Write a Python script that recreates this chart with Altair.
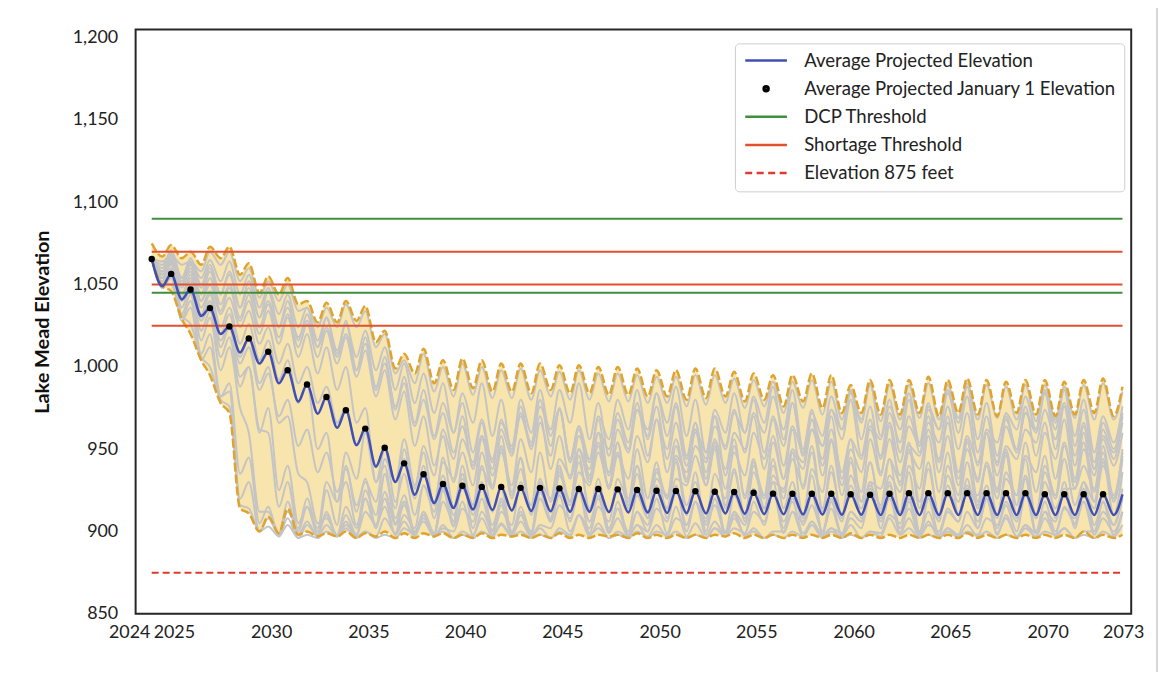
import altair as alt
import pandas as pd

# ---------------- data ----------------
JAN_YEARS = list(range(2024, 2075))      # January 1 of each year (2024 .. 2074)
LOW_OFFSET = 0.55                         # timing of the summer low within a year

AVG_JAN = [1065.5, 1056.5, 1047, 1035.7, 1024.5, 1017.2, 1009.2, 998, 989.3, 981.7,
           973.6, 962.5, 950.9, 941.4, 934.8, 928.8, 927.8, 927.1, 927.1, 926.5,
           926.5, 926.2, 925.8, 925.8, 925.6, 925.2, 924.8, 924.6, 924.4, 924.1,
           924, 923.5, 923, 922.9, 922.9, 922.9, 922.6, 922.3, 922.9, 923.3,
           923.3, 923.3, 923.3, 923.3, 923.3, 923.3, 922.6, 922.6, 922.6, 922.6, 922.5]
AVG_LOW = [1049, 1041, 1031, 1020, 1008.8, 1002, 990, 979, 971.6, 963,
           952.5, 939.4, 930, 922.3, 917.3, 914.3, 913.3, 913, 912.8, 912.5,
           912.3, 912, 912, 911.8, 911.6, 911.5, 911.3, 911.2, 911, 911,
           910.8, 910.6, 910.5, 910.4, 910.3, 910.2, 910.2, 910, 910, 910,
           910, 910, 910, 910, 910, 910, 910, 910, 910, 910]

ENV_HI_JAN = [1075, 1074, 1070, 1073, 1073, 1063, 1055, 1054, 1040, 1039,
              1040, 1037, 1022, 1008, 1011, 1004, 1005, 1004, 1002, 1002,
              1002, 1001, 1001, 1000, 1000, 999, 998, 998, 999, 999,
              997, 996, 995, 995, 996, 995, 989, 992, 992, 992,
              994, 992, 993, 992, 991, 992, 992, 991, 992, 993, 988]
ENV_HI_LOW = [1067, 1066, 1062, 1066, 1056, 1045, 1044, 1038, 1027, 1027,
              1028, 1015, 999, 996, 990, 986, 987, 985, 985, 984,
              986, 984, 984, 983, 983, 982, 982, 980, 981, 982,
              979, 980, 976, 979, 975, 972, 972, 971, 971, 972,
              970, 972, 971, 970, 972, 971, 970, 971, 972, 970]
ENV_LO_JAN = [1066, 1046, 1020, 995, 972, 911, 909, 914, 900, 899,
              900, 899, 900, 899, 899, 899, 898, 899, 898, 898,
              898, 899, 898, 898, 898, 899, 898, 898, 898, 898,
              899, 898, 898, 898, 898, 898, 899, 898, 898, 898,
              898, 898, 899, 898, 898, 898, 898, 898, 900, 898, 898]
ENV_LO_LOW = [1049, 1029, 1004, 978, 914, 900, 899, 898, 897, 897,
              896, 897, 896, 896, 897, 896, 896, 896, 897, 896,
              896, 896, 896, 897, 896, 896, 896, 896, 896, 897,
              896, 896, 896, 896, 896, 896, 896, 896, 896, 896,
              896, 896, 896, 896, 896, 896, 896, 896, 896, 896]

# individual projection traces (grey)
TR00_JAN = [1066, 1068, 1064, 1070, 1070, 1060, 1052, 1050, 1036, 1036, 1038, 1034, 1020, 1004, 1008, 1000, 1002, 1000, 998, 999,
            998, 997, 998, 996, 996, 995, 994, 994, 995, 995, 993, 992, 991, 991, 992, 991, 985, 989, 989, 989,
            990, 989, 990, 989, 988, 989, 989, 988, 989, 990, 985]
TR00_LOW = [1064, 1062, 1058, 1062, 1052, 1042, 1040, 1034, 1024, 1024, 1024, 1012, 996, 990, 985, 982, 983, 981, 981, 980,
            982, 980, 980, 979, 979, 978, 978, 976, 977, 978, 975, 976, 972, 975, 971, 968, 968, 967, 968, 969,
            968, 969, 968, 969, 968, 967, 968, 969, 968, 968]
TR01_JAN = [1066, 1058, 1044, 1030, 1012, 960, 912, 918, 906, 904, 910, 920, 915, 906, 912, 925, 918, 908, 904, 915,
            930, 922, 910, 905, 900, 912, 920, 915, 905, 902, 910, 918, 925, 912, 904, 900, 908, 922, 930, 918,
            906, 902, 912, 920, 910, 904, 900, 915, 926, 918, 912]
TR01_LOW = [1050, 1032, 1016, 998, 975, 912, 899, 898, 897, 897, 898, 904, 898, 897, 899, 903, 898, 897, 897, 899,
            907, 900, 897, 896, 897, 900, 899, 897, 896, 897, 898, 904, 899, 897, 896, 897, 902, 908, 899, 897,
            896, 898, 902, 898, 897, 896, 898, 905, 900, 898]
TR02_JAN = [1066, 1062, 1052, 1040, 1024, 1000, 960, 930, 915, 925, 940, 932, 920, 910, 928, 945, 935, 920, 912, 930,
            948, 940, 925, 915, 932, 950, 942, 928, 918, 935, 952, 944, 930, 920, 938, 955, 945, 930, 922, 940,
            958, 948, 932, 920, 936, 954, 946, 930, 924, 942, 950]
TR02_LOW = [1054, 1042, 1030, 1012, 994, 962, 915, 900, 898, 904, 912, 902, 898, 902, 912, 915, 902, 898, 904, 916,
            918, 906, 899, 906, 918, 920, 908, 900, 908, 920, 922, 910, 902, 910, 924, 922, 908, 902, 912, 926,
            924, 910, 902, 908, 922, 924, 908, 902, 914, 920]
TR03_JAN = [1066, 1065, 1058, 1050, 1042, 1034, 1024, 1014, 1000, 988, 975, 962, 950, 944, 952, 962, 970, 958, 948, 956,
            966, 974, 964, 952, 946, 958, 968, 976, 966, 954, 948, 960, 970, 978, 968, 956, 950, 962, 972, 980,
            970, 958, 950, 960, 970, 976, 966, 954, 950, 962, 970]
TR03_LOW = [1056, 1050, 1040, 1032, 1024, 1014, 1002, 990, 978, 966, 952, 940, 930, 926, 934, 944, 938, 928, 928, 936,
            946, 944, 932, 926, 932, 942, 950, 944, 932, 926, 934, 944, 952, 946, 934, 928, 936, 946, 954, 948,
            936, 928, 932, 942, 950, 946, 932, 926, 934, 944]
TR04_JAN = [1066, 1071, 1066, 1062, 1058, 1052, 1046, 1040, 1032, 1030, 1028, 1018, 1006, 994, 986, 978, 984, 990, 980, 970,
            976, 986, 990, 978, 968, 974, 984, 988, 980, 970, 972, 982, 988, 978, 968, 974, 984, 990, 980, 970,
            974, 984, 988, 978, 968, 972, 984, 988, 980, 970, 976]
TR04_LOW = [1060, 1054, 1050, 1044, 1036, 1030, 1024, 1016, 1012, 1008, 998, 986, 974, 966, 958, 960, 966, 958, 948, 952,
            962, 966, 956, 946, 950, 962, 966, 958, 948, 950, 960, 966, 956, 946, 952, 962, 966, 958, 948, 952,
            962, 966, 956, 946, 950, 962, 966, 958, 948, 954]
TR05_JAN = [1066, 1066, 1060, 1054, 1048, 1040, 1034, 1030, 1020, 1012, 1000, 975, 940, 918, 912, 926, 940, 930, 916, 910,
            924, 938, 946, 932, 918, 912, 928, 942, 936, 920, 912, 926, 940, 948, 934, 918, 912, 928, 944, 936,
            920, 912, 928, 942, 948, 932, 918, 914, 930, 944, 936]
TR05_LOW = [1056, 1048, 1040, 1034, 1028, 1020, 1014, 1006, 996, 986, 966, 930, 905, 898, 898, 906, 910, 900, 897, 900,
            908, 918, 912, 900, 898, 904, 914, 910, 900, 897, 904, 914, 920, 908, 898, 898, 906, 916, 910, 900,
            898, 906, 916, 920, 908, 900, 900, 908, 918, 910]
TR06_JAN = [1066, 1068, 1062, 1058, 1050, 1044, 1038, 1032, 1026, 1022, 1018, 1010, 998, 985, 970, 958, 948, 956, 968, 980,
            986, 975, 962, 954, 962, 974, 984, 978, 966, 956, 960, 972, 982, 986, 974, 962, 956, 964, 976, 984,
            978, 966, 958, 962, 972, 982, 986, 976, 964, 958, 966]
TR06_LOW = [1058, 1050, 1044, 1038, 1030, 1024, 1018, 1012, 1006, 1002, 994, 982, 968, 952, 940, 930, 928, 938, 950, 960,
            958, 944, 934, 936, 948, 958, 958, 946, 936, 938, 950, 960, 962, 950, 940, 936, 944, 956, 962, 954,
            942, 936, 942, 954, 962, 962, 950, 940, 938, 948]
TR07_JAN = [1066, 1056, 1040, 1020, 990, 945, 915, 908, 904, 912, 902, 900, 908, 918, 910, 904, 900, 912, 920, 910,
            902, 900, 910, 922, 914, 904, 900, 908, 918, 926, 912, 902, 900, 912, 922, 914, 904, 900, 910, 920,
            912, 902, 900, 908, 918, 924, 912, 902, 900, 912, 920]
TR07_LOW = [1050, 1030, 1008, 982, 935, 905, 897, 896, 897, 897, 896, 897, 899, 899, 897, 896, 897, 901, 899, 897,
            896, 897, 902, 900, 897, 896, 898, 904, 906, 899, 897, 896, 900, 906, 900, 897, 896, 899, 905, 899,
            897, 896, 898, 904, 906, 899, 897, 896, 900, 904]
TR08_JAN = [1066, 1063, 1056, 1046, 1036, 1026, 1016, 1004, 990, 960, 930, 920, 935, 950, 940, 928, 935, 948, 958, 945,
            932, 936, 950, 960, 948, 935, 938, 952, 962, 950, 936, 940, 954, 962, 948, 936, 942, 956, 964, 950,
            938, 940, 954, 960, 946, 934, 940, 952, 960, 948, 944]
TR08_LOW = [1054, 1044, 1036, 1024, 1014, 1004, 992, 978, 950, 918, 904, 902, 914, 920, 908, 904, 916, 926, 924, 912,
            906, 918, 930, 926, 914, 908, 920, 930, 928, 916, 910, 922, 932, 926, 912, 910, 924, 934, 928, 914,
            910, 922, 930, 924, 910, 910, 922, 930, 924, 918]
TR09_JAN = [1066, 1069, 1064, 1065, 1064, 1056, 1048, 1044, 1036, 1030, 1026, 1022, 1012, 1002, 996, 990, 978, 968, 962, 972,
            980, 974, 964, 970, 980, 986, 976, 966, 962, 974, 984, 980, 968, 964, 972, 982, 986, 976, 966, 964,
            976, 986, 982, 970, 964, 972, 984, 986, 974, 966, 972]
TR09_LOW = [1062, 1054, 1054, 1052, 1044, 1036, 1032, 1024, 1016, 1010, 1006, 998, 986, 978, 972, 960, 948, 942, 946, 954,
            952, 942, 944, 956, 962, 956, 944, 940, 948, 960, 960, 948, 940, 948, 958, 962, 956, 944, 942, 952,
            962, 960, 948, 940, 948, 960, 962, 952, 942, 950]
TR10_JAN = [1066, 1050, 1026, 1000, 976, 914, 903, 904, 898, 900, 906, 900, 898, 902, 908, 900, 898, 900, 905, 900,
            898, 902, 910, 902, 898, 900, 904, 900, 898, 902, 908, 900, 898, 900, 906, 902, 898, 900, 908, 902,
            898, 900, 904, 900, 898, 902, 908, 902, 898, 900, 904]
TR10_LOW = [1050, 1031, 1006, 980, 916, 900, 897, 896, 896, 897, 897, 896, 896, 898, 897, 896, 896, 897, 897, 896,
            896, 898, 898, 896, 896, 897, 897, 896, 896, 897, 898, 896, 896, 897, 898, 896, 896, 897, 898, 896,
            896, 897, 897, 896, 896, 897, 898, 896, 896, 897]
TR11_JAN = [1066, 1060, 1050, 1038, 1026, 1012, 996, 980, 962, 948, 938, 930, 944, 956, 948, 934, 926, 938, 950, 944,
            930, 924, 936, 948, 954, 940, 928, 932, 946, 952, 938, 926, 930, 944, 952, 940, 928, 930, 944, 954,
            942, 928, 926, 940, 950, 944, 930, 926, 940, 952, 946]
TR11_LOW = [1050, 1040, 1028, 1016, 1002, 986, 970, 952, 936, 924, 916, 918, 930, 928, 916, 910, 914, 926, 922, 910,
            906, 916, 928, 928, 916, 908, 914, 928, 928, 914, 906, 914, 926, 928, 914, 908, 914, 926, 930, 918,
            908, 910, 922, 926, 916, 908, 914, 926, 926, 920]
TR12_JAN = [1066, 1064, 1054, 1044, 1032, 1018, 1000, 970, 930, 908, 915, 925, 935, 922, 910, 918, 932, 940, 926, 912,
            920, 934, 942, 928, 914, 922, 936, 944, 930, 916, 922, 936, 944, 930, 916, 920, 934, 942, 928, 914,
            920, 934, 942, 928, 916, 922, 936, 944, 930, 918, 926]
TR12_LOW = [1052, 1042, 1032, 1020, 1006, 990, 966, 935, 905, 898, 902, 910, 908, 900, 898, 906, 916, 912, 900, 898,
            906, 918, 914, 902, 900, 908, 920, 916, 904, 900, 908, 920, 914, 904, 900, 906, 918, 914, 902, 898,
            906, 918, 914, 902, 900, 908, 920, 916, 904, 904]
TR13_JAN = [1066, 1067, 1063, 1060, 1056, 1048, 1040, 1036, 1028, 1024, 1020, 1014, 1002, 990, 980, 972, 964, 958, 966, 976,
            970, 958, 950, 960, 972, 978, 968, 956, 952, 964, 974, 970, 958, 950, 962, 974, 980, 968, 956, 952,
            966, 976, 972, 960, 952, 962, 974, 978, 966, 956, 960]
TR13_LOW = [1058, 1052, 1048, 1044, 1036, 1030, 1024, 1018, 1012, 1006, 998, 988, 976, 964, 956, 948, 940, 944, 952, 950,
            938, 932, 938, 950, 954, 946, 936, 932, 942, 952, 948, 938, 932, 942, 952, 956, 946, 936, 934, 946,
            954, 950, 940, 934, 944, 954, 956, 946, 938, 940]
TR14_JAN = [1066, 1059, 1048, 1034, 1018, 1000, 975, 940, 915, 930, 948, 960, 950, 935, 928, 942, 956, 966, 952, 938,
            930, 944, 958, 968, 954, 940, 932, 946, 960, 970, 956, 942, 934, 948, 962, 970, 956, 942, 934, 948,
            962, 970, 956, 940, 932, 946, 960, 968, 954, 940, 948]
TR14_LOW = [1048, 1036, 1022, 1006, 988, 960, 925, 905, 902, 918, 932, 930, 918, 910, 918, 932, 942, 934, 920, 912,
            920, 934, 942, 934, 920, 912, 922, 936, 944, 934, 920, 914, 924, 938, 944, 932, 918, 912, 924, 938,
            944, 932, 918, 910, 922, 936, 944, 932, 918, 922]
TR15_JAN = [1066, 1054, 1036, 1012, 985, 930, 908, 912, 920, 910, 904, 912, 924, 916, 906, 902, 914, 926, 918, 906,
            904, 916, 928, 920, 908, 904, 914, 926, 918, 906, 902, 912, 924, 918, 906, 902, 912, 926, 920, 908,
            904, 914, 926, 920, 908, 904, 912, 924, 918, 908, 912]
TR15_LOW = [1048, 1028, 1004, 982, 920, 900, 898, 902, 900, 897, 898, 904, 904, 899, 897, 900, 906, 904, 898, 897,
            902, 908, 906, 899, 897, 900, 906, 904, 898, 897, 899, 906, 906, 899, 897, 899, 906, 906, 899, 897,
            900, 906, 906, 899, 897, 899, 906, 904, 898, 900]

TRACES = [
    ("t00", TR00_JAN, TR00_LOW), ("t01", TR01_JAN, TR01_LOW), ("t02", TR02_JAN, TR02_LOW),
    ("t03", TR03_JAN, TR03_LOW), ("t04", TR04_JAN, TR04_LOW), ("t05", TR05_JAN, TR05_LOW),
    ("t06", TR06_JAN, TR06_LOW), ("t07", TR07_JAN, TR07_LOW), ("t08", TR08_JAN, TR08_LOW),
    ("t09", TR09_JAN, TR09_LOW), ("t10", TR10_JAN, TR10_LOW), ("t11", TR11_JAN, TR11_LOW),
    ("t12", TR12_JAN, TR12_LOW), ("t13", TR13_JAN, TR13_LOW), ("t14", TR14_JAN, TR14_LOW),
    ("t15", TR15_JAN, TR15_LOW),
]

DCP_LEVELS = [1090, 1045]
SHORTAGE_LEVELS = [1070, 1050, 1025]
FLOOR_LEVELS = [875]

X_TICK_POS = [2023.17, 2025.14, 2030.15, 2035.16, 2040.14, 2045.15, 2050.16,
              2055.14, 2060.16, 2065.14, 2070.15, 2074.04]
X_TICK_LABELS = ["2024", "2025", "2030", "2035", "2040", "2045", "2050",
                 "2055", "2060", "2065", "2070", "2073"]
Y_TICKS = [850, 900, 950, 1000, 1050, 1100, 1150, 1200]

LEGEND_NAMES = ["Average Projected Elevation", "Average Projected January 1 Elevation",
                "DCP Threshold", "Shortage Threshold", "Elevation 875 feet"]

# ---------------- styles ----------------
BLUE = "#3f4fb3"
GREEN = "#3f8f3f"
RED = "#e4502f"
RED_DASH = "#e03a30"
GOLD = "#e0a32c"
BAND = "#f8e4ad"
GREY = "#c4c4c4"
FONT = "Lato"
W, H = 1002.5, 588.4

LEGEND_COLORS = [BLUE, "#000000", GREEN, RED, RED_DASH]
LINE_PATH = "M-3,0H3"
DOT_PATH = ("M-0.36,0A0.36,0.36 0 1,0 0.36,0A0.36,0.36 0 1,0 -0.36,0"
            "M-0.13,0A0.13,0.13 0 1,0 0.13,0A0.13,0.13 0 1,0 -0.13,0")
DASH_PATH = "M-3,0H-2M-1.35,0H-0.35M0.3,0H1.3M1.95,0H2.95"
LEGEND_SHAPES = [LINE_PATH, DOT_PATH, LINE_PATH, LINE_PATH, DASH_PATH]


def seasonal(jan, low):
    xs, ys = [], []
    for k, yr in enumerate(JAN_YEARS):
        xs.append(yr)
        ys.append(jan[k])
        if k < len(low):
            xs.append(yr + LOW_OFFSET)
            ys.append(low[k])
    return xs, ys


hx, hy = seasonal(ENV_HI_JAN, ENV_HI_LOW)
lx, ly = seasonal(ENV_LO_JAN, ENV_LO_LOW)
band_df = pd.DataFrame({"x": hx, "hi": hy, "lo": ly})
env_df = pd.concat([pd.DataFrame({"x": hx, "y": hy, "edge": "max"}),
                    pd.DataFrame({"x": lx, "y": ly, "edge": "min"})])

rows = []
for name, jan, low in TRACES:
    xs, ys = seasonal(jan, low)
    rows.append(pd.DataFrame({"x": xs, "y": ys, "trace": name}))
trace_df = pd.concat(rows)

ax, ay = seasonal(AVG_JAN, AVG_LOW)
avg_df = pd.DataFrame({"x": ax, "y": ay})
dots_df = pd.DataFrame({"x": JAN_YEARS[:50], "y": AVG_JAN[:50]})

x0, x1 = JAN_YEARS[0], JAN_YEARS[-1]
dcp_df = pd.DataFrame({"level": DCP_LEVELS, "x0": x0, "x1": x1})
short_df = pd.DataFrame({"level": SHORTAGE_LEVELS, "x0": x0, "x1": x1})
floor_df = pd.DataFrame({"level": FLOOR_LEVELS, "x0": x0, "x1": x1})
legend_df = pd.DataFrame({"series": LEGEND_NAMES})

# ---------------- scales & axes ----------------
label_expr = ""
for pos, lab in zip(X_TICK_POS, X_TICK_LABELS):
    label_expr += f"abs(datum.value - {pos}) < 0.01 ? '{lab}' : "
label_expr += "''"

xscale = alt.Scale(domain=[2023.17, 2074.45], nice=False, zero=False)
yscale = alt.Scale(domain=[850, 1205], nice=False, zero=False)
xaxis = alt.Axis(values=X_TICK_POS, labelExpr=label_expr, labelFlush=False,
                 labelOverlap=False, ticks=False, domain=False, grid=False,
                 labelPadding=10, labelFontSize=18, labelFont=FONT, labelColor="#222",
                 labelOffset={"condition": {"test": "datum.value < 2024", "value": -6.5},
                              "value": 0})
yaxis = alt.Axis(values=Y_TICKS, format=",d", ticks=False, domain=False, grid=False,
                 labelPadding=18, labelFontSize=18, labelFont=FONT, labelColor="#222",
                 titleFont=FONT, titleFontSize=20, titleFontWeight="bold",
                 titleColor="#111", titlePadding=20)
YT = "Lake Mead Elevation"


def XE(field):
    return alt.X(field, scale=xscale, axis=xaxis, title=None)


def Y(field):
    return alt.Y(field, scale=yscale, axis=yaxis, title=YT)


# light outer figure border (its bottom edge falls outside the canvas)
border = alt.Chart(pd.DataFrame({"one": [1]})).mark_rect(
    filled=False, stroke="#c9c9c9", strokeWidth=1.5).encode(
    x=alt.value(-131.5), x2=alt.value(W + 26), y=alt.value(-22.5), y2=alt.value(H + 70))

band = alt.Chart(band_df).mark_area(color=BAND, interpolate="monotone", opacity=1).encode(
    x=XE("x:Q"), y=Y("hi:Q"), y2=alt.Y2("lo:Q"))

traces = alt.Chart(trace_df).mark_line(color=GREY, strokeWidth=2, interpolate="monotone").encode(
    x=XE("x:Q"), y=Y("y:Q"), detail="trace:N")

env = alt.Chart(env_df).mark_line(color=GOLD, strokeWidth=2.5, strokeDash=[9, 3],
                                  interpolate="monotone").encode(
    x=XE("x:Q"), y=Y("y:Q"), detail="edge:N")

dcp = alt.Chart(dcp_df).mark_rule(color=GREEN, strokeWidth=2).encode(
    x=XE("x0:Q"), x2="x1:Q", y=Y("level:Q"))
short = alt.Chart(short_df).mark_rule(color=RED, strokeWidth=2).encode(
    x=XE("x0:Q"), x2="x1:Q", y=Y("level:Q"))
floor = alt.Chart(floor_df).mark_rule(color=RED_DASH, strokeWidth=2, strokeDash=[7, 4]).encode(
    x=XE("x0:Q"), x2="x1:Q", y=Y("level:Q"))

avg = alt.Chart(avg_df).mark_line(color=BLUE, strokeWidth=2.5, interpolate="monotone").encode(
    x=XE("x:Q"), y=Y("y:Q"))
dots = alt.Chart(dots_df).mark_circle(color="black", size=42, opacity=1).encode(
    x=XE("x:Q"), y=Y("y:Q"))

leg = alt.Legend(title=None, orient="none", legendX=603.5, legendY=14, direction="vertical",
                 symbolSize=196, symbolStrokeWidth=2.5, symbolOffset=14, labelOffset=29,
                 labelFont=FONT, labelFontSize=18.7, labelColor="#222", padding=8,
                 rowPadding=8.3, strokeColor="#cfcfcf", fillColor="white", cornerRadius=4,
                 labelLimit=400)
legend_layer = alt.Chart(legend_df).mark_point(filled=False, opacity=1, strokeWidth=2.5).encode(
    color=alt.Color("series:N", scale=alt.Scale(domain=LEGEND_NAMES, range=LEGEND_COLORS), legend=leg),
    shape=alt.Shape("series:N", scale=alt.Scale(domain=LEGEND_NAMES, range=LEGEND_SHAPES), legend=leg),
).transform_filter("false")

chart = alt.layer(border, band, traces, env, dcp, short, floor, avg, dots, legend_layer).properties(
    width=W, height=H,
    autosize=alt.AutoSizeParams(type="none"),
    padding={"left": 128.5, "top": 19.3, "right": 30, "bottom": 56},
    background="white",
).configure_view(stroke="#262626", strokeWidth=2)

chart.save("out.html", embed_options={"renderer": "svg", "actions": False})
